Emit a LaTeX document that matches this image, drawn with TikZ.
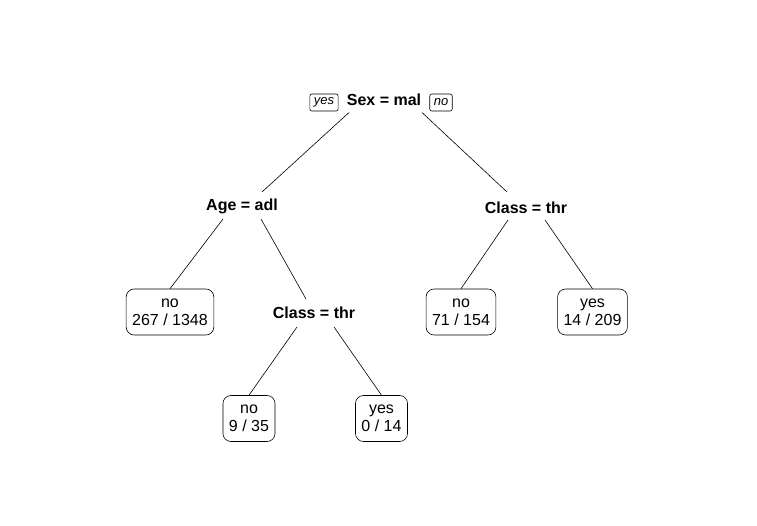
\documentclass[tikz,border=0pt]{standalone}
\usepackage{fontspec}
\setmainfont{Liberation Sans}
\usetikzlibrary{calc}

\tikzset{
  split/.style={font=\fontsize{16}{18}\selectfont\bfseries,inner sep=0pt,text height=11.5pt,text depth=0pt},
  leaf/.style={draw,rounded corners=8pt,fill=white,align=center,font=\fontsize{16}{18}\selectfont,inner xsep=6pt,inner ysep=0pt,minimum height=46pt,execute at begin node={\rule{0pt}{13.5pt}}},
  tag/.style={draw,rounded corners=2pt,font=\fontsize{13}{13}\selectfont\itshape,inner xsep=4pt,inner ysep=0pt,minimum height=17pt}
}

\begin{document}
\begin{tikzpicture}[x=1pt,y=-1pt,line width=0.6pt]
        \useasboundingbox (0,0) rectangle (757,526);
        % Splits
        \node[split] (sex) at (384,99.5) {Sex = mal};
        \node[tag] (yes0) at (324,102.5) {yes};
        \node[tag] (no0) at (441,102.5) {no};
        \node[split] (age) at (242,205) {Age = adl};
        \node[split] (class1) at (526,207.5) {Class = thr};
        \node[split] (class2) at (314,313) {Class = thr};
        % Leaves
        \node[leaf] (leaf1) at (170,312) {no\\267 / 1348};
        \node[leaf] (leaf2) at (249,418.5) {no\\9 / 35};
        \node[leaf] (leaf3) at (381.5,418.5) {yes\\0 / 14};
        \node[leaf] (leaf4) at (461,312) {no\\71 / 154};
        \node[leaf] (leaf5) at (592.5,312) {yes\\14 / 209};
        % Branches
        \draw ($(sex)+(-35,13)$) -- ($(age)+(20,-13)$);
        \draw ($(sex)+(38,13)$) -- ($(class1)+(-19,-15.5)$);
        \draw ($(age)+(-19,14)$) -- (leaf1.north);
        \draw ($(age)+(19,14)$) -- ($(class2)+(-8,-14)$);
        \draw ($(class2)+(-17,14)$) -- (leaf2.north);
        \draw ($(class2)+(20,14)$) -- (leaf3.north);
        \draw ($(class1)+(-18,12.5)$) -- (leaf4.north);
        \draw ($(class1)+(19,12.5)$) -- (leaf5.north);
\end{tikzpicture}
\end{document}
